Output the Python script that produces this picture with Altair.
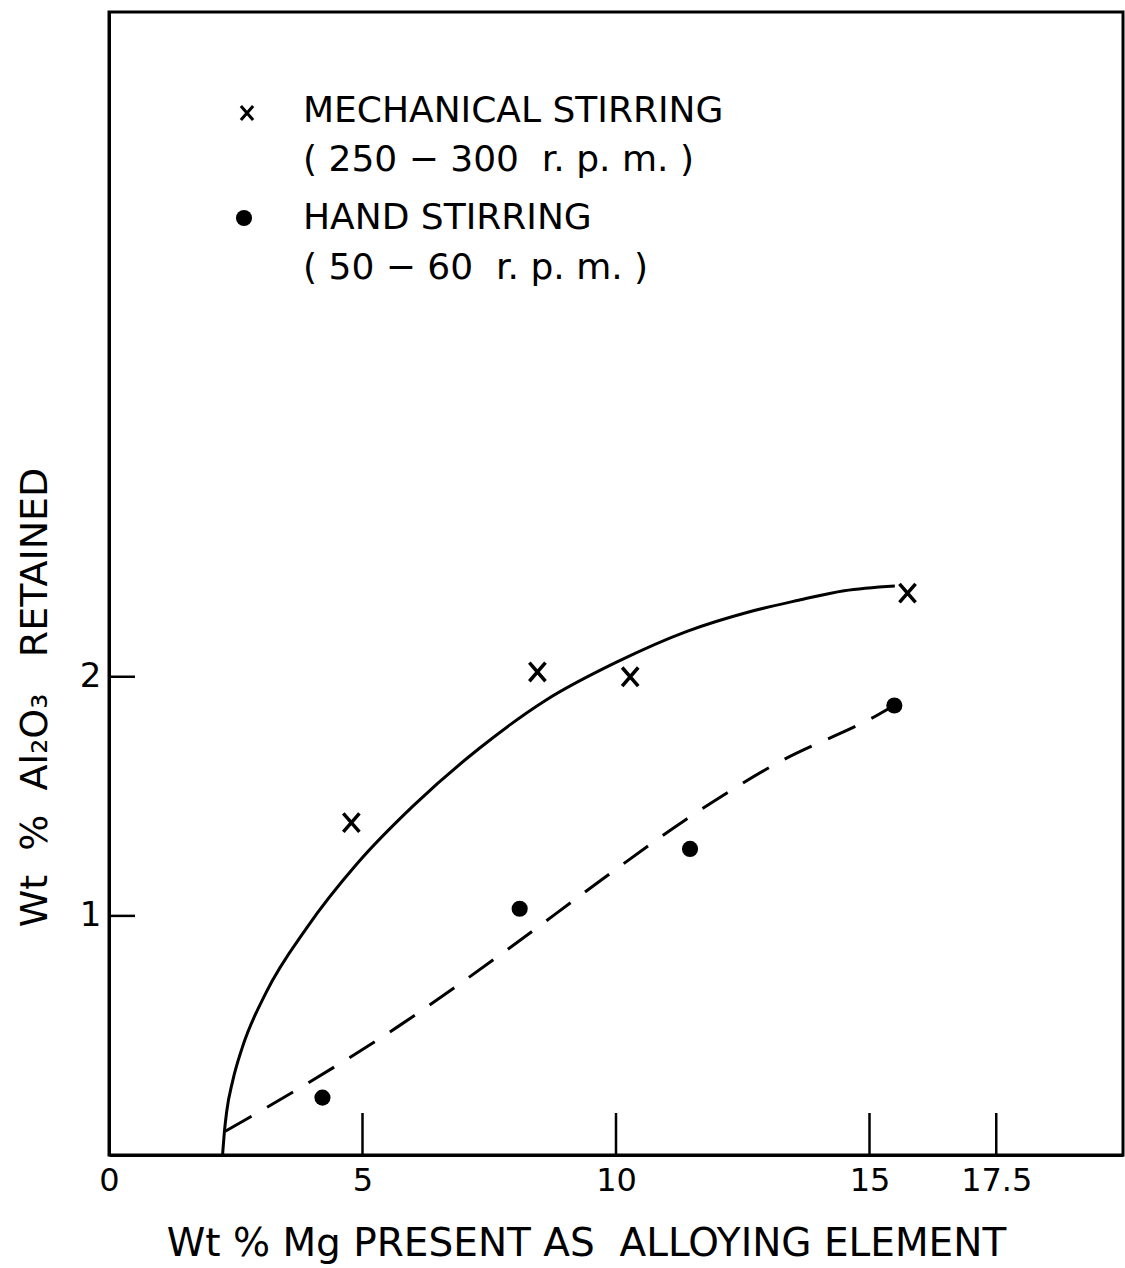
import altair as alt
import pandas as pd

mech_x = [4.78, 8.45, 10.28, 15.75]
mech_y = [1.39, 2.02, 2.00, 2.35]
hand_x = [4.21, 8.10, 11.46, 15.49]
hand_y = [0.24, 1.03, 1.28, 1.88]

# Hand-drawn trend curves (traced)
solid_x = [2.24, 2.28, 2.32, 2.44, 2.63, 3.10, 3.90, 4.90, 6.00, 7.30, 8.60, 10.00, 11.40, 12.60, 13.60, 14.50, 15.50]
solid_y = [0.00, 0.105, 0.18, 0.31, 0.45, 0.68, 0.95, 1.22, 1.46, 1.70, 1.90, 2.06, 2.19, 2.27, 2.32, 2.36, 2.38]
dash_x = [2.30, 3.76, 5.72, 7.80, 9.71, 11.36, 13.19, 15.16, 15.49]
dash_y = [0.10, 0.28, 0.54, 0.85, 1.15, 1.40, 1.64, 1.84, 1.88]

x_ticks = [0, 5, 10, 15, 17.5]
x_inner_ticks = [5, 10, 15, 17.5]
y_ticks = [1, 2]

NB = "\u00a0"
legend_lines = ["MECHANICAL STIRRING", "( 250 − 300" + NB + NB + "r. p. m. )",
                "HAND STIRRING", "( 50 − 60" + NB + NB + "r. p. m. )"]
x_title = "Wt % Mg PRESENT AS" + NB + NB + "ALLOYING ELEMENT"
y_title = "Wt" + NB * 2 + "%" + NB * 2 + "Al₂O₃" + NB * 3 + "RETAINED"

FONT = "DejaVu Sans"
W, H = 1014, 1143
XDOM = [0, 20]
YDOM = [0, 4.78]

xs = alt.Scale(domain=XDOM, nice=False, zero=False)
ys = alt.Scale(domain=YDOM, nice=False, zero=False)

XSHAPE = "M-1,-1.15L1,1.15M-1,1.15L1,-1.15"

mech = pd.DataFrame({"x": mech_x, "y": mech_y})
hand = pd.DataFrame({"x": hand_x, "y": hand_y})
solid = pd.DataFrame({"x": solid_x, "y": solid_y, "o": range(len(solid_x))})
dash = pd.DataFrame({"x": dash_x, "y": dash_y, "o": range(len(dash_x))})

xenc = alt.X("x:Q", scale=xs, axis=alt.Axis(
    values=x_ticks, labelExpr="'' + datum.value", ticks=False, grid=False,
    domain=True, domainColor="black", domainWidth=3, labelFlush=False, labelOverlap=False,
    labelFontSize=32, labelFont=FONT, labelColor="black", labelPadding=10,
    title=x_title, titleFont=FONT, titleFontSize=39,
    titleFontWeight="normal", titleColor="black",
    titleX=477, titleY=88, titleBaseline="middle", titleAnchor="middle", titleAlign="center"))
yenc = alt.Y("y:Q", scale=ys, axis=alt.Axis(
    values=y_ticks, labelExpr="'' + datum.value", ticks=False, grid=False,
    domain=True, domainColor="black", domainWidth=3, labelFlush=False,
    labelFontSize=34, labelFont=FONT, labelColor="black", labelPadding=8,
    title=y_title, titleFont=FONT, titleFontSize=38,
    titleFontWeight="normal", titleColor="black",
    titleX=-74, titleY=685, titleBaseline="middle", titleAlign="center", titleAngle=270))

line_solid = alt.Chart(solid).mark_line(color="black", strokeWidth=3, interpolate="monotone").encode(
    x=xenc, y=yenc, order="o:Q")
line_dash = alt.Chart(dash).mark_line(color="black", strokeWidth=3, strokeDash=[30, 18],
                                      interpolate="monotone").encode(
    x=alt.X("x:Q", scale=xs), y=alt.Y("y:Q", scale=ys), order="o:Q")

pts_mech = alt.Chart(mech).mark_point(shape=XSHAPE, filled=False, stroke="black", strokeWidth=3.5,
                                      size=260, opacity=1).encode(
    x=alt.X("x:Q", scale=xs), y=alt.Y("y:Q", scale=ys))
pts_hand = alt.Chart(hand).mark_circle(color="black", size=260, opacity=1).encode(
    x=alt.X("x:Q", scale=xs), y=alt.Y("y:Q", scale=ys))

xt = alt.Chart(pd.DataFrame({"x": x_inner_ticks})).mark_rule(color="black", strokeWidth=2.5).encode(
    x=alt.X("x:Q", scale=xs), y=alt.value(H), y2=alt.value(H - 42))
yt = alt.Chart(pd.DataFrame({"y": y_ticks})).mark_rule(color="black", strokeWidth=2.5).encode(
    y=alt.Y("y:Q", scale=ys), x=alt.value(0), x2=alt.value(26))

leg_df = pd.DataFrame({"t": legend_lines, "py": [99, 148, 206, 256]})
leg_text = alt.Chart(leg_df).mark_text(font=FONT, fontSize=36, align="left", baseline="middle",
                                       color="black").encode(
    text="t:N", x=alt.value(194), y=alt.Y("py:Q", scale=None))
leg_x = alt.Chart(pd.DataFrame({"px": [138], "py": [101]})).mark_point(
    shape=XSHAPE, filled=False, stroke="black", strokeWidth=3, size=150, opacity=1).encode(
    x=alt.X("px:Q", scale=None), y=alt.Y("py:Q", scale=None))
leg_dot = alt.Chart(pd.DataFrame({"px": [135], "py": [206]})).mark_circle(
    color="black", size=260, opacity=1).encode(
    x=alt.X("px:Q", scale=None), y=alt.Y("py:Q", scale=None))

chart = alt.layer(line_solid, line_dash, pts_mech, pts_hand, xt, yt, leg_text, leg_x, leg_dot).properties(
    width=W, height=H,
    autosize=alt.AutoSizeParams(type="none"),
    padding={"left": 109, "top": 12, "right": 2, "bottom": 113},
    background="white",
).configure_view(stroke="black", strokeWidth=3)

chart.save("out.html", embed_options={"renderer": "svg", "actions": False})
